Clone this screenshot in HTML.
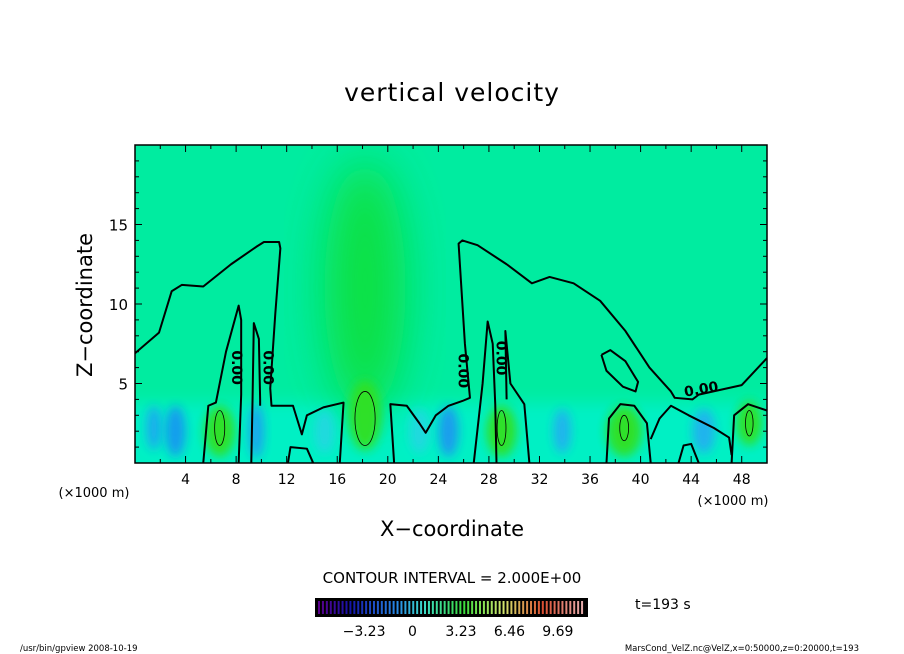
<!DOCTYPE html>
<html><head><meta charset="utf-8">
<style>
body{margin:0;background:#fff;}
svg{display:block;font-family:"DejaVu Sans","Liberation Sans",sans-serif;}
</style></head>
<body>
<svg id="chart" width="904" height="654" viewBox="0 0 904 654">
<defs>
<filter id="blur5" x="-50%" y="-50%" width="200%" height="200%"><feGaussianBlur stdDeviation="5"/></filter>
<filter id="blur8" x="-50%" y="-50%" width="200%" height="200%"><feGaussianBlur stdDeviation="8"/></filter>
<filter id="blur20" x="-50%" y="-50%" width="200%" height="200%"><feGaussianBlur stdDeviation="22"/></filter>
<clipPath id="plotclip"><rect x="135" y="145" width="632" height="318"/></clipPath>
</defs>
<text x="452" y="101" text-anchor="middle" font-size="25" letter-spacing="1">vertical velocity</text>
<g id="plot" clip-path="url(#plotclip)"></g>
<rect x="135" y="145" width="632" height="318" fill="none" stroke="#000" stroke-width="1.5"/>
<g id="axes"></g>
<text x="94" y="497" text-anchor="middle" font-size="13">(×1000 m)</text>
<text x="733" y="505" text-anchor="middle" font-size="13">(×1000 m)</text>
<text x="452" y="536" text-anchor="middle" font-size="21">X−coordinate</text>
<text transform="translate(92,305) rotate(-90)" text-anchor="middle" font-size="21">Z−coordinate</text>
<text x="452" y="583" text-anchor="middle" font-size="15">CONTOUR INTERVAL = 2.000E+00</text>
<g id="cbar"></g>
<text x="635" y="609" font-size="14">t=193 s</text>
<text x="20" y="651" font-size="8.5">/usr/bin/gpview   2008-10-19</text>
<text x="859" y="651" text-anchor="end" font-size="8.5">MarsCond_VelZ.nc@VelZ,x=0:50000,z=0:20000,t=193</text>
</svg>
<script>
const NS="http://www.w3.org/2000/svg";
const xDomain=[0,50], zDomain=[0,20];
const xTicks=[4,8,12,16,20,24,28,32,36,40,44,48];
const zTicks=[5,10,15];
const cbarLabels=["-3.23","0","3.23","6.46","9.69"];
const cbarValues=[-3.23,0,3.23,6.46,9.69];
const cbarRange=[-6.5,11.7];
// blobs: [x, z, rx, rz, color]
const blobX=[18.2,18.2,6.7,29,38.7,48.6,1.5,3.2,9.6,24.8,33.8,45,22.5,15];
const blobZ=[11,3,2,2,2,2.5,2.2,2,2,2,2,2,2,2];
const blobRX=[3.2,1.3,1.2,1.2,1.4,1.0,0.6,0.8,0.6,0.8,0.7,0.9,0.8,0.8];
const blobRZ=[8,2.2,1.6,1.6,1.6,1.4,1.4,1.6,1.7,1.6,1.4,1.4,1.4,1.4];
const blobC=["#10e040","#30e020","#30e020","#30e020","#30e020","#30e020","#1aa8f0","#1898f0","#1aa0f0","#1a98f0","#20b0f0","#20b0f0","#20d8e0","#20d8e0"];
// contour polylines (x km, z km)
const contours=[
 [[0,6.9],[1.9,8.2],[2.9,10.8],[3.7,11.2],[5.4,11.1],[7.6,12.5],[9.6,13.6],[10.2,13.9],[11.4,13.9],[11.5,13.5],[11.1,9.4],[10.7,4.7],[10.8,3.6],[12.5,3.6],[13.2,1.8],[13.6,3.0],[14.9,3.5],[16.5,3.8],[16.2,0]],
 [[5.4,0],[5.8,3.6],[6.4,3.8],[7.2,7],[8.2,9.9],[8.4,9.0],[8.4,4.3],[8.2,0]],
 [[9.2,0],[9.3,4],[9.4,8.8],[9.8,7.8],[9.9,4],[9.9,3.6]],
 [[20.5,0],[20.2,3.7],[21.5,3.6],[22.5,2.5],[23,1.9],[23.8,3.0],[24.8,3.6],[25.9,3.9],[26.5,4.1],[26.1,7.5],[25.6,13.8],[25.9,14.0],[27.1,13.7],[29.4,12.5],[31.4,11.3],[32.8,11.7],[34.7,11.3],[36.8,10.2],[38.8,8.3],[40.7,6.0],[42.4,4.5],[42.7,4.1],[44.1,4.0],[44.6,4.3],[48,4.9],[50,6.6]],
 [[26.8,0],[27.5,5],[27.9,8.9],[28.3,7.5],[28.5,3.7],[28.6,0]],
 [[31.2,0],[30.8,3.7],[29.7,5],[29.3,8.3],[29.4,4]],
 [[36.9,6.8],[37.6,7.1],[38.8,6.4],[39.8,5.1],[39.6,4.5],[38.6,4.8],[37.3,5.8],[36.9,6.8]],
 [[37.3,0],[37.5,2.8],[38.4,3.7],[39.5,3.6],[40.5,2.5],[40.8,0]],
 [[47.2,0],[47.4,3],[48.5,3.7],[50,3.3]],
 [[43.0,0],[43.4,1.1],[44.0,1.2],[44.6,0]],
 [[12.1,0],[12.3,1.0],[13.6,0.9],[14.1,0]],
 [[40.8,1.5],[41.5,2.8],[42.4,3.6],[43.8,3.0],[45.8,2.2],[47,1.6],[47.2,0.5]]
];
const innerX=[6.7,18.2,29,38.7,48.6];
const innerZ=[2.2,2.8,2.2,2.2,2.5];
const innerRX=[0.4,0.8,0.35,0.35,0.3];
const innerRZ=[1.1,1.7,1.1,0.8,0.8];
const labelX=[8.0,10.5,25.9,28.9,44.8];
const labelZ=[6.0,6.0,5.8,6.6,4.6];
const labelRot=[90,90,90,90,-10];

const X=v=>135+(v-xDomain[0])/(xDomain[1]-xDomain[0])*632;
const Z=v=>463-(v-zDomain[0])/(zDomain[1]-zDomain[0])*318;
const plot=document.getElementById('plot');
function mk(tag,attrs,parent){const e=document.createElementNS(NS,tag);for(const k in attrs)e.setAttribute(k,attrs[k]);parent.appendChild(e);return e;}
const bg=mk('rect',{x:135,y:145,width:632,height:318,fill:'#00eca0'},plot);


const band=mk('rect',{x:120,y:Z(3.8),width:660,height:Z(0)-Z(3.8)+20,fill:'#00f0c4',filter:'url(#blur8)'},plot);


for(let i=0;i<blobX.length;i++){
 const rz=(Z(0)-Z(blobRZ[i]));
 const e=mk('ellipse',{cx:X(blobX[i]),cy:Z(blobZ[i]),rx:X(blobRX[i])-135,ry:rz,fill:blobC[i],filter:i<1?'url(#blur20)':'url(#blur5)',opacity:0.95},plot);
 
 
}
for(const c of contours){
 const p=mk('polyline',{points:c.map(q=>X(q[0])+','+Z(q[1])).join(' '),fill:'none',stroke:'#000','stroke-width':2,'stroke-linejoin':'round'},plot);
 
 
}
for(let i=0;i<innerX.length;i++){
 const e=mk('ellipse',{cx:X(innerX[i]),cy:Z(innerZ[i]),rx:X(innerRX[i])-135,ry:Z(0)-Z(innerRZ[i]),fill:'none',stroke:'#000','stroke-width':0.8},plot);
 
 
}
for(let i=0;i<labelX.length;i++){
 const t=mk('text',{x:0,y:0,transform:`translate(${X(labelX[i])},${Z(labelZ[i])}) rotate(${labelRot[i]})`,'text-anchor':'middle','font-size':14,'font-weight':'bold','dominant-baseline':'middle'},plot);
 t.textContent='0.00';
 
 
}
const axes=document.getElementById('axes');
for(let v=0;v<=50;v+=2){
 const len=v%4===0?7:4;
 mk('line',{x1:X(v),x2:X(v),y1:463,y2:463-len,stroke:'#000'},axes);
 mk('line',{x1:X(v),x2:X(v),y1:145,y2:145+len,stroke:'#000'},axes);
}
for(let v=0;v<=20;v+=1){
 const len=v%5===0?7:4;
 mk('line',{x1:135,x2:135+len,y1:Z(v),y2:Z(v),stroke:'#000'},axes);
 mk('line',{x1:767,x2:767-len,y1:Z(v),y2:Z(v),stroke:'#000'},axes);
}
for(const v of xTicks){
 const t=mk('text',{x:X(v),y:484,'text-anchor':'middle','font-size':14},axes);
 t.textContent=v;
 
 
}
for(const v of zTicks){
 const t=mk('text',{x:128,y:Z(v)+6,'text-anchor':'end','font-size':15},axes);
 t.textContent=v;
 
 
}
// colorbar
const cb=document.getElementById('cbar');
const cbX0=315,cbX1=588,cbY=598,cbH=19;
mk('rect',{x:cbX0,y:cbY,width:cbX1-cbX0,height:cbH,fill:'#000'},cb);
function cmap(t){
 const stops=[[0,[90,0,140]],[0.12,[20,20,170]],[0.3,[40,140,230]],[0.4,[60,220,200]],[0.55,[60,220,60]],[0.7,[210,230,110]],[0.85,[220,80,50]],[1,[230,170,170]]];
 for(let i=1;i<stops.length;i++){if(t<=stops[i][0]){const a=stops[i-1],b=stops[i];const f=(t-a[0])/(b[0]-a[0]);return 'rgb('+a[1].map((c,k)=>Math.round(c+(b[1][k]-c)*f)).join(',')+')';}}
 return 'rgb(230,170,170)';
}
const n=68;
for(let i=0;i<n;i++){
 const x=cbX0+3+i*(cbX1-cbX0-6)/n;
 mk('rect',{x:x,y:cbY+3,width:2,height:cbH-6,fill:cmap(i/(n-1))},cb);
}
const CB=v=>cbX0+(v-cbarRange[0])/(cbarRange[1]-cbarRange[0])*(cbX1-cbX0);
for(let i=0;i<cbarLabels.length;i++){
 const t=mk('text',{x:CB(cbarValues[i]),y:636,'text-anchor':'middle','font-size':14},cb);
 t.textContent=cbarLabels[i].replace('-','−');
 
 
}
</script>
</body></html>
